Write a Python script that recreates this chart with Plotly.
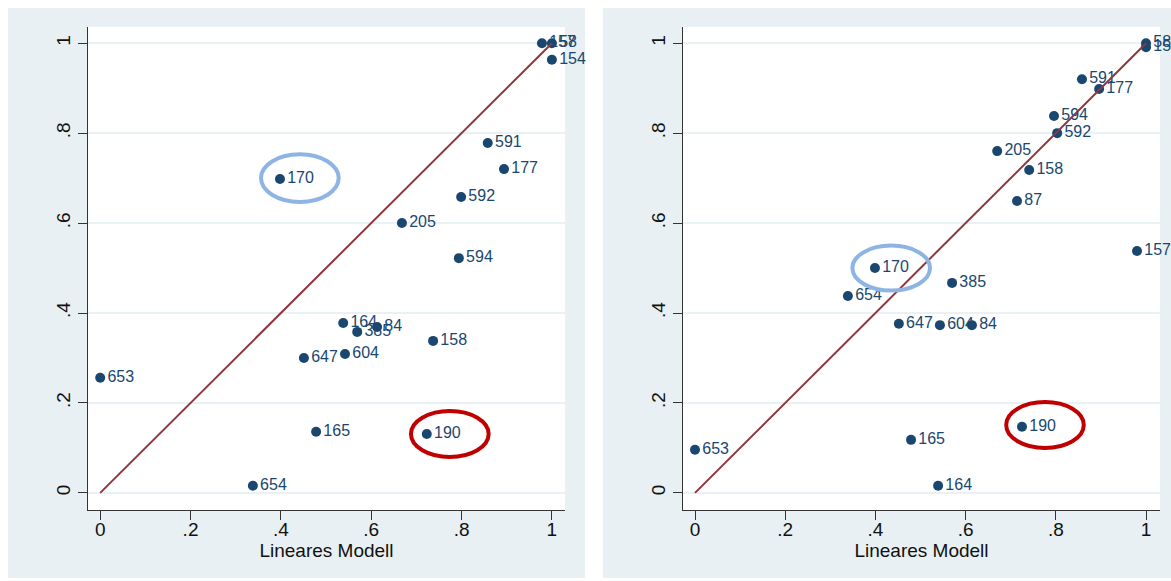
import plotly.graph_objects as go

# Left panel: observed share vs. linear model
left_ids = ["653", "654", "165", "647", "604", "164", "385", "84", "158", "170",
            "205", "594", "592", "591", "177", "190", "157", "58", "154"]
left_x = [0.0, 0.338, 0.478, 0.451, 0.542, 0.538, 0.569, 0.613, 0.737, 0.398,
          0.668, 0.794, 0.799, 0.858, 0.894, 0.723, 0.978, 1.0, 1.0]
left_y = [0.256, 0.016, 0.136, 0.30, 0.309, 0.378, 0.358, 0.369, 0.338, 0.698,
          0.60, 0.522, 0.658, 0.778, 0.72, 0.131, 1.0, 1.0, 0.963]

# Right panel
right_ids = ["653", "654", "170", "385", "647", "604", "84", "165", "164", "190",
             "87", "158", "205", "592", "594", "591", "177", "157", "58", "154"]
right_x = [0.0, 0.339, 0.399, 0.57, 0.452, 0.543, 0.614, 0.479, 0.539, 0.725,
           0.714, 0.741, 0.67, 0.803, 0.796, 0.858, 0.896, 0.98, 1.0, 1.0]
right_y = [0.096, 0.438, 0.50, 0.467, 0.376, 0.373, 0.373, 0.118, 0.016, 0.147,
           0.649, 0.718, 0.76, 0.80, 0.838, 0.92, 0.898, 0.538, 1.0, 0.991]

# Highlight ellipses: (center x, center y, half-width, half-height)
left_blue = (0.442, 0.70, 0.086, 0.053)
left_red = (0.774, 0.131, 0.086, 0.051)
right_blue = (0.435, 0.50, 0.086, 0.050)
right_red = (0.776, 0.151, 0.086, 0.051)

tick_vals = [0, 0.2, 0.4, 0.6, 0.8, 1]
tick_text = ["0", ".2", ".4", ".6", ".8", "1"]
x_title = "Lineares Modell"

NAVY = "#1A476F"
MAROON = "#90353B"
PANEL_BG = "#E8F0F3"
FONT = "Liberation Sans, Arial, sans-serif"

W, H = 1171, 581

fig = go.Figure()


def add_panel(ids, xs, ys, xa, ya):
    # labels first so markers sit on top of overlapping text
    fig.add_trace(go.Scatter(
        x=xs, y=ys, text=ids, mode="markers+text", textposition="middle right",
        marker=dict(size=10, color="rgba(0,0,0,0)"),
        textfont=dict(family=FONT, size=16, color=NAVY),
        xaxis=xa, yaxis=ya, hoverinfo="skip", showlegend=False, cliponaxis=False))
    fig.add_trace(go.Scatter(
        x=xs, y=ys, mode="markers",
        marker=dict(size=10, color=NAVY),
        xaxis=xa, yaxis=ya, showlegend=False, cliponaxis=False))
    fig.add_trace(go.Scatter(
        x=[0, 1], y=[0, 1], mode="lines",
        line=dict(color=MAROON, width=2),
        xaxis=xa, yaxis=ya, showlegend=False))


add_panel(left_ids, left_x, left_y, "x", "y")
add_panel(right_ids, right_x, right_y, "x2", "y2")

shapes = []
# panel backgrounds
for x0, x1 in [(8, 585), (603, 1171)]:
    shapes.append(dict(type="rect", xref="paper", yref="paper",
                       x0=x0 / W, x1=x1 / W, y0=1 - 578 / H, y1=1 - 8 / H,
                       fillcolor=PANEL_BG, line=dict(width=0), layer="below"))
# white plot regions
for x0, x1 in [(88, 565), (683, 1160)]:
    shapes.append(dict(type="rect", xref="paper", yref="paper",
                       x0=x0 / W, x1=x1 / W, y0=1 - 510 / H, y1=1 - 27 / H,
                       fillcolor="white", line=dict(width=0), layer="below"))


def ellipse(c, color, xr, yr):
    cx, cy, hw, hh = c
    return dict(type="circle", xref=xr, yref=yr,
                x0=cx - hw, x1=cx + hw, y0=cy - hh, y1=cy + hh,
                line=dict(color=color, width=4), layer="above")


BLUE = "#8DB4E2"
RED = "#C00000"
shapes += [ellipse(left_blue, BLUE, "x", "y"), ellipse(left_red, RED, "x", "y"),
           ellipse(right_blue, BLUE, "x2", "y2"), ellipse(right_red, RED, "x2", "y2")]

xaxis_common = dict(
    tickvals=tick_vals, ticktext=tick_text, ticks="outside", ticklen=9,
    tickwidth=1, tickcolor="#333333", showline=True, linecolor="#333333",
    linewidth=1, showgrid=False, zeroline=False, mirror=False,
    ticklabelstandoff=-7,
    tickfont=dict(family=FONT, size=19, color="#111111"),
    title=dict(text=x_title, font=dict(family=FONT, size=19, color="#111111"),
               standoff=0),
)
yaxis_common = dict(
    tickvals=tick_vals, ticktext=tick_text, ticks="outside", ticklen=9,
    tickwidth=1, tickcolor="#333333", showline=True, linecolor="#333333",
    linewidth=1, showgrid=True, gridcolor="#EAF1F4", gridwidth=1.5,
    zeroline=False, mirror=False, tickangle=-90,
    tickfont=dict(family=FONT, size=19, color="#111111"),
    range=[-0.038, 1.036],
)

ydom = [1 - 510 / H, 1 - 27 / H]
fig.update_layout(
    width=W, height=H,
    margin=dict(l=0, r=0, t=0, b=0),
    paper_bgcolor="white", plot_bgcolor="rgba(0,0,0,0)",
    shapes=shapes,
    xaxis=dict(**xaxis_common, domain=[88 / W, 565 / W], range=[-0.027, 1.029],
               anchor="y"),
    yaxis=dict(**yaxis_common, domain=ydom, anchor="x"),
    xaxis2=dict(**xaxis_common, domain=[683 / W, 1160 / W],
                range=[-0.0266, 1.031], anchor="y2"),
    yaxis2=dict(**yaxis_common, domain=ydom, anchor="x2"),
)

fig.write_html("out.html")
